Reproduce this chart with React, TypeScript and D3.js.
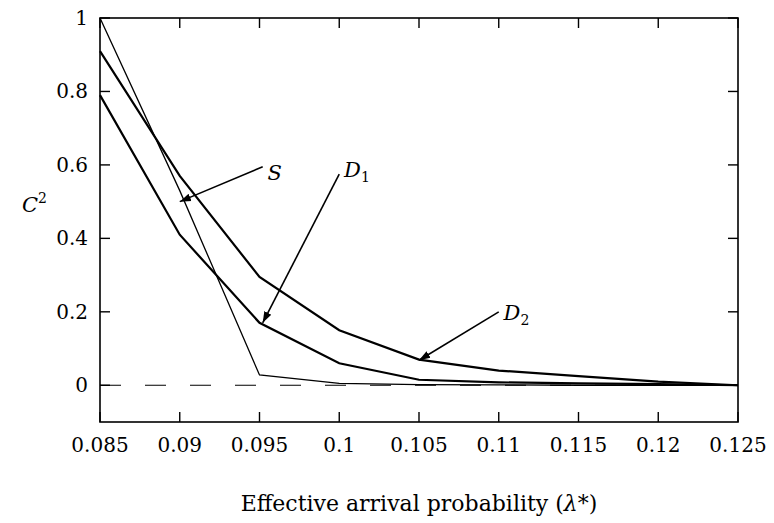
import React from "react"
import * as d3 from "d3"

const xValues = [0.085, 0.09, 0.095, 0.1, 0.105, 0.11, 0.115, 0.12, 0.125]
const sValues = [1.0, 0.53, 0.028, 0.005, 0.002, 0.001, 0.0, 0.0, 0.0]
const d1Values = [0.79, 0.41, 0.17, 0.06, 0.015, 0.008, 0.005, 0.003, 0.0]
const d2Values = [0.91, 0.57, 0.295, 0.15, 0.07, 0.04, 0.025, 0.01, 0.0]
const xTicks = [0.085, 0.09, 0.095, 0.1, 0.105, 0.11, 0.115, 0.12, 0.125]
const xTickLabels = ["0.085", "0.09", "0.095", "0.1", "0.105", "0.11", "0.115", "0.12", "0.125"]
const yTicks = [0, 0.2, 0.4, 0.6, 0.8, 1]
const yTickLabels = ["0", "0.2", "0.4", "0.6", "0.8", "1"]

const W = 774
const H = 523
const left = 100
const right = 738
const top = 18
const bottom = 422
const font = "'DejaVu Serif', 'Liberation Serif', serif"

export default function App() {
  const x = d3.scaleLinear().domain([0.085, 0.125]).range([left, right])
  const y = d3.scaleLinear().domain([-0.1, 1]).range([bottom, top])

  const line = d3
    .line<number>()
    .x((d, i) => x(xValues[i]))
    .y(d => y(d))

  // annotation arrows: label anchor (value coords) -> point on curve
  const arrows = [
    { from: [0.0952, 0.595], to: [0.09, 0.5], label: "S", sub: "", lx: 0.0955, ly: 0.58 },
    { from: [0.1, 0.575], to: [0.0952, 0.17], label: "D", sub: "1", lx: 0.1003, ly: 0.59 },
    { from: [0.11, 0.2], to: [0.105, 0.068], label: "D", sub: "2", lx: 0.1103, ly: 0.2 }
  ]

  const tick = 10

  return (
    <svg
      width={W}
      height={H}
      style={{ position: "absolute", left: 0, top: 0, background: "#fff" }}
    >
      <defs>
        <marker id="ah" viewBox="0 0 10 10" refX="10" refY="5" markerWidth="7" markerHeight="7" orient="auto">
          <path d="M0,1.5 L10,5 L0,8.5 Z" fill="#000" />
        </marker>
      </defs>

      {/* zero dashed line */}
      <line x1={left} x2={right} y1={y(0)} y2={y(0)} stroke="#000" strokeWidth={1.2} strokeDasharray="21 24" />

      {/* frame */}
      <rect x={left} y={top} width={right - left} height={bottom - top} fill="none" stroke="#000" strokeWidth={1.6} />

      {xTicks.map((t, i) => (
        <g key={"x" + i}>
          <line x1={x(t)} x2={x(t)} y1={bottom} y2={bottom - tick} stroke="#000" strokeWidth={1.4} />
          <line x1={x(t)} x2={x(t)} y1={top} y2={top + tick} stroke="#000" strokeWidth={1.4} />
          <text x={x(t)} y={452} textAnchor="middle" fontFamily={font} fontSize={20}>
            {xTickLabels[i]}
          </text>
        </g>
      ))}

      {yTicks.map((t, i) => (
        <g key={"y" + i}>
          <line x1={left} x2={left + tick} y1={y(t)} y2={y(t)} stroke="#000" strokeWidth={1.4} />
          <line x1={right} x2={right - tick} y1={y(t)} y2={y(t)} stroke="#000" strokeWidth={1.4} />
          <text x={88} y={y(t) + 7} textAnchor="end" fontFamily={font} fontSize={20}>
            {yTickLabels[i]}
          </text>
        </g>
      ))}

      <path d={line(sValues) || ""} fill="none" stroke="#000" strokeWidth={1.3} />
      <path d={line(d1Values) || ""} fill="none" stroke="#000" strokeWidth={2.2} />
      <path d={line(d2Values) || ""} fill="none" stroke="#000" strokeWidth={2.2} />

      {arrows.map((a, i) => (
        <g key={"a" + i}>
          <line
            x1={x(a.from[0])}
            y1={y(a.from[1])}
            x2={x(a.to[0])}
            y2={y(a.to[1])}
            stroke="#000"
            strokeWidth={1.6}
            markerEnd="url(#ah)"
          />
          <text x={x(a.lx)} y={y(a.ly) + 8} fontFamily={font} fontStyle="italic" fontSize={21}>
            {a.label}
            {a.sub ? (
              <tspan fontSize={14} dy={5} fontStyle="normal">
                {a.sub}
              </tspan>
            ) : null}
          </text>
        </g>
      ))}

      <text x={22} y={212} fontFamily={font} fontStyle="italic" fontSize={21}>
        C
        <tspan fontSize={14} dy={-9} fontStyle="normal">2</tspan>
      </text>

      <text x={(left + right) / 2} y={511} textAnchor="middle" fontFamily={font} fontSize={22}>
        Effective arrival probability (<tspan fontStyle="italic">λ</tspan>*)
      </text>
    </svg>
  )
}
